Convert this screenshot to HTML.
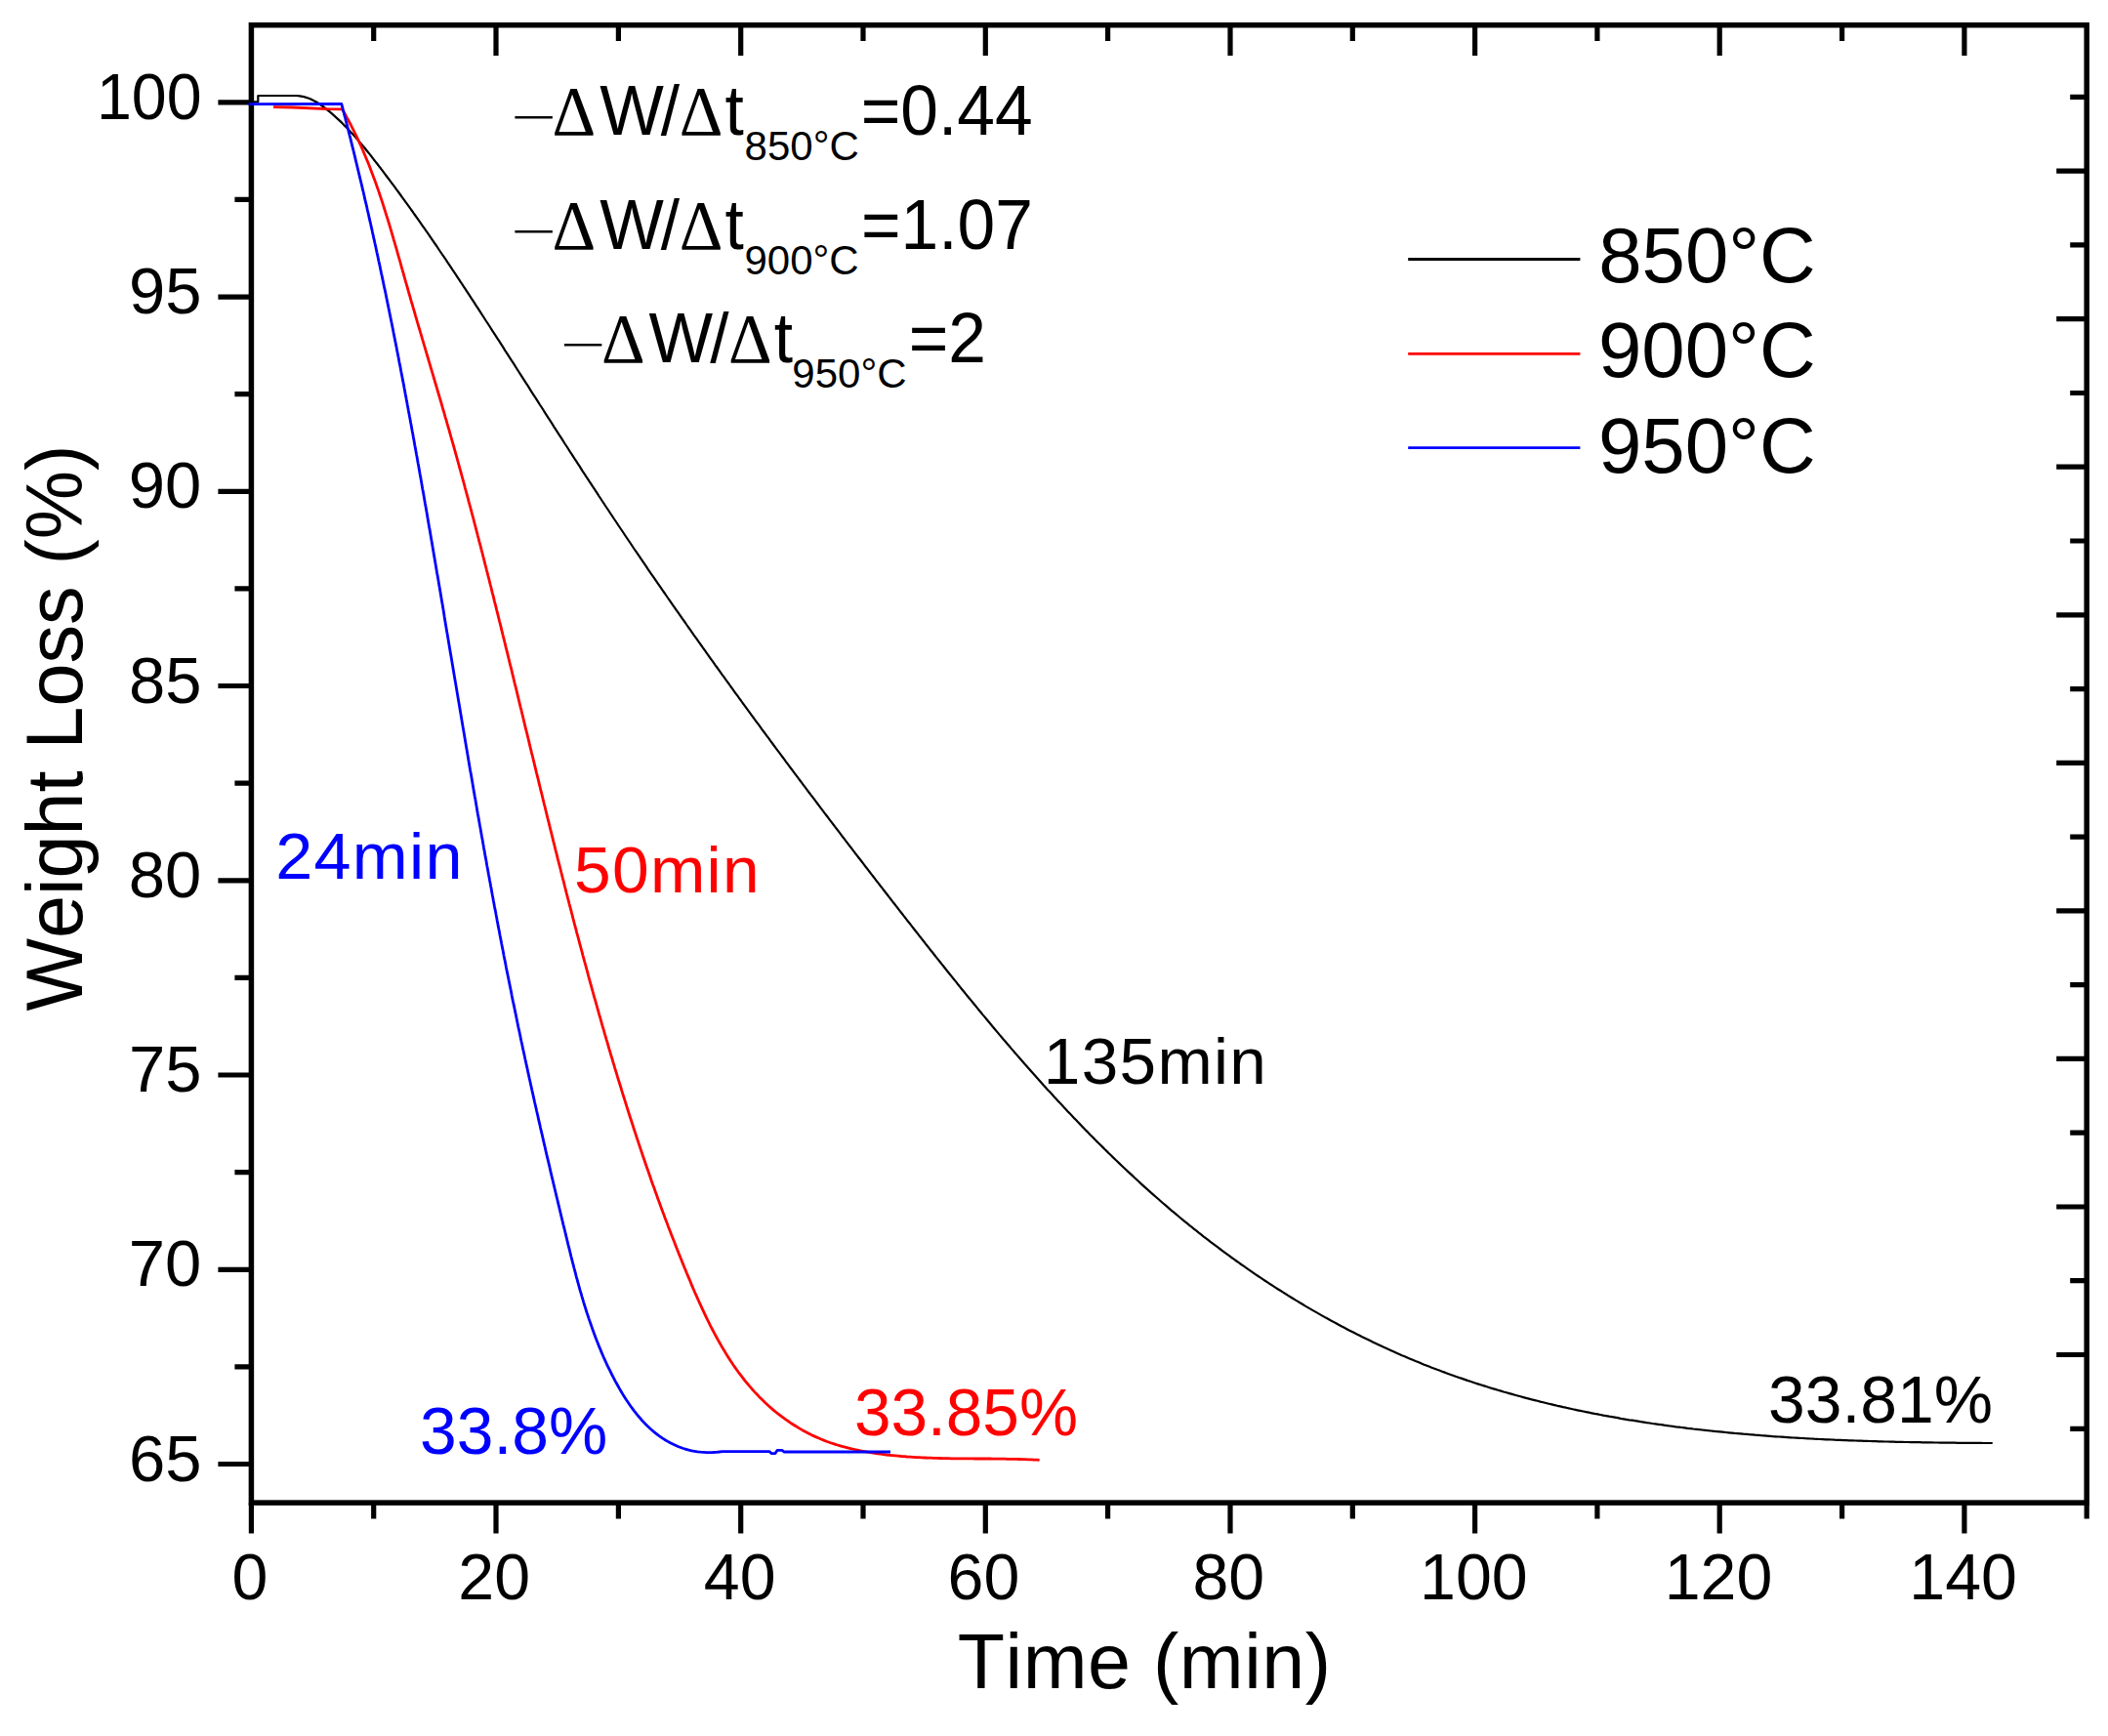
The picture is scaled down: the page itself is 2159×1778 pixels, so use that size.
<!DOCTYPE html>
<html lang="en">
<head>
<meta charset="utf-8">
<title>Weight Loss vs Time</title>
<style>
html,body{margin:0;padding:0;background:#fff;}
body{width:2159px;height:1778px;overflow:hidden;}
svg{display:block;}
svg text{font-family:'Liberation Sans', sans-serif;font-kerning:none;font-variant-ligatures:none;}
</style>
</head>
<body>
<svg width="2159" height="1778" viewBox="0 0 2159 1778">
<rect x="0" y="0" width="2159" height="1778" fill="#ffffff"/>
<rect x="257.4" y="25.7" width="1879.8" height="1513.4" fill="none" stroke="#000" stroke-width="5.5"/>
<path d="M257.4,1539.1 v31.3 M382.7,1539.1 v16.4 M382.7,25.7 v16.4 M508.0,1539.1 v31.3 M508.0,25.7 v31.3 M633.4,1539.1 v16.4 M633.4,25.7 v16.4 M758.7,1539.1 v31.3 M758.7,25.7 v31.3 M884.0,1539.1 v16.4 M884.0,25.7 v16.4 M1009.3,1539.1 v31.3 M1009.3,25.7 v31.3 M1134.6,1539.1 v16.4 M1134.6,25.7 v16.4 M1260.0,1539.1 v31.3 M1260.0,25.7 v31.3 M1385.3,1539.1 v16.4 M1385.3,25.7 v16.4 M1510.6,1539.1 v31.3 M1510.6,25.7 v31.3 M1635.9,1539.1 v16.4 M1635.9,25.7 v16.4 M1761.2,1539.1 v31.3 M1761.2,25.7 v31.3 M1886.6,1539.1 v16.4 M1886.6,25.7 v16.4 M2011.9,1539.1 v31.3 M2011.9,25.7 v31.3 M2137.2,1539.1 v16.4 M257.4,104.8 h-34.0 M257.4,204.4 h-17.0 M257.4,304.1 h-34.0 M257.4,403.7 h-17.0 M257.4,503.3 h-34.0 M257.4,602.9 h-17.0 M257.4,702.5 h-34.0 M257.4,802.2 h-17.0 M257.4,901.8 h-34.0 M257.4,1001.4 h-17.0 M257.4,1101.0 h-34.0 M257.4,1200.7 h-17.0 M257.4,1300.3 h-34.0 M257.4,1399.9 h-17.0 M257.4,1499.5 h-34.0 M2137.2,99.4 h-17.0 M2137.2,175.2 h-31.0 M2137.2,250.9 h-17.0 M2137.2,326.7 h-31.0 M2137.2,402.5 h-17.0 M2137.2,478.2 h-31.0 M2137.2,554.0 h-17.0 M2137.2,629.8 h-31.0 M2137.2,705.6 h-17.0 M2137.2,781.3 h-31.0 M2137.2,857.1 h-17.0 M2137.2,932.9 h-31.0 M2137.2,1008.6 h-17.0 M2137.2,1084.4 h-31.0 M2137.2,1160.2 h-17.0 M2137.2,1236.0 h-31.0 M2137.2,1311.7 h-17.0 M2137.2,1387.5 h-31.0 M2137.2,1463.3 h-17.0" stroke="#000" stroke-width="5.2" fill="none"/>
<polyline points="257.4,104.3 264.3,104.3 264.3,98.0 290.0,98.0 304.0,98.0 304.0,98.0 307.1,98.3 310.0,98.8 312.9,99.6 315.7,100.5 318.4,101.6 321.0,102.9 323.6,104.3 326.1,105.8 328.5,107.5 330.9,109.2 333.3,111.0 335.6,112.8 337.9,114.7 340.2,116.6 342.4,118.6 344.6,120.6 346.8,122.6 349.0,124.6 351.1,126.7 353.2,128.9 355.3,131.0 357.4,133.2 359.4,135.4 361.4,137.6 363.5,139.8 365.4,142.1 367.4,144.4 369.4,146.7 371.3,149.0 373.3,151.3 375.2,153.7 377.1,156.0 379.0,158.4 380.9,160.8 382.7,163.2 384.6,165.6 386.5,168.0 388.3,170.4 390.2,172.8 392.0,175.2 393.8,177.6 395.6,180.0 397.5,182.5 399.3,184.9 401.1,187.3 402.9,189.7 404.7,192.2 406.5,194.6 408.3,197.0 410.1,199.5 411.8,201.9 413.6,204.3 415.4,206.8 417.1,209.2 418.9,211.7 420.7,214.1 422.4,216.5 424.1,219.0 425.9,221.5 427.6,223.9 429.4,226.4 431.1,228.8 432.8,231.3 434.5,233.7 436.2,236.2 438.0,238.7 439.7,241.1 441.4,243.6 443.1,246.1 444.8,248.6 446.5,251.0 448.2,253.5 449.8,256.0 451.5,258.5 453.2,261.0 454.9,263.4 456.6,265.9 458.2,268.4 459.9,270.9 461.6,273.4 463.2,275.9 464.9,278.4 466.6,280.9 468.2,283.4 469.9,285.9 471.5,288.4 473.2,290.9 474.8,293.4 476.5,295.9 478.1,298.4 479.8,300.9 481.4,303.4 483.0,305.9 484.7,308.4 486.3,310.9 487.9,313.4 489.6,315.9 491.2,318.4 492.8,320.9 494.5,323.5 496.1,326.0 497.7,328.5 499.4,331.0 501.0,333.5 502.6,336.0 504.2,338.6 505.9,341.1 507.5,343.6 509.1,346.1 510.8,348.7 512.4,351.2 514.0,353.7 515.6,356.2 517.2,358.8 518.9,361.3 520.5,363.8 522.1,366.3 523.7,368.9 525.4,371.4 527.0,373.9 528.6,376.5 530.2,379.0 531.8,381.5 533.5,384.1 535.1,386.6 536.7,389.1 538.3,391.7 540.0,394.2 541.6,396.7 543.2,399.3 544.8,401.8 546.4,404.3 548.1,406.9 549.7,409.4 551.3,411.9 552.9,414.5 554.6,417.0 556.2,419.5 557.8,422.1 559.4,424.6 561.0,427.1 562.7,429.7 564.3,432.2 565.9,434.7 567.5,437.3 569.2,439.8 570.8,442.3 572.4,444.9 574.1,447.4 575.7,449.9 577.3,452.5 578.9,455.0 580.6,457.5 582.2,460.0 583.8,462.6 585.5,465.1 587.1,467.6 588.7,470.2 590.4,472.7 592.0,475.2 593.7,477.7 595.3,480.3 596.9,482.8 598.6,485.3 600.2,487.8 601.9,490.3 603.5,492.9 605.2,495.4 606.8,497.9 608.5,500.4 610.1,502.9 611.8,505.4 613.4,508.0 615.1,510.5 616.7,513.0 618.4,515.5 620.0,518.0 621.7,520.5 623.4,523.0 625.0,525.5 626.7,528.0 628.3,530.5 630.0,533.0 631.7,535.5 633.3,538.0 635.0,540.5 636.7,543.0 638.4,545.5 640.0,548.0 641.7,550.5 643.4,553.0 645.1,555.5 646.8,558.0 648.4,560.5 650.1,563.0 651.8,565.4 653.5,567.9 655.2,570.4 656.9,572.9 658.6,575.4 660.3,577.8 662.0,580.3 663.6,582.8 665.3,585.3 667.0,587.8 668.7,590.2 670.4,592.7 672.1,595.2 673.8,597.7 675.6,600.1 677.3,602.6 679.0,605.1 680.7,607.5 682.4,610.0 684.1,612.5 685.8,614.9 687.5,617.4 689.2,619.8 691.0,622.3 692.7,624.8 694.4,627.2 696.1,629.7 697.8,632.1 699.6,634.6 701.3,637.0 703.0,639.5 704.7,642.0 706.5,644.4 708.2,646.9 709.9,649.3 711.7,651.8 713.4,654.2 715.1,656.7 716.9,659.1 718.6,661.5 720.3,664.0 722.1,666.4 723.8,668.9 725.6,671.3 727.3,673.8 729.0,676.2 730.8,678.6 732.5,681.1 734.3,683.5 736.0,685.9 737.8,688.4 739.5,690.8 741.3,693.2 743.0,695.7 744.8,698.1 746.6,700.5 748.3,703.0 750.1,705.4 751.8,707.8 753.6,710.3 755.4,712.7 757.1,715.1 758.9,717.5 760.6,720.0 762.4,722.4 764.2,724.8 765.9,727.2 767.7,729.6 769.5,732.1 771.3,734.5 773.0,736.9 774.8,739.3 776.6,741.7 778.4,744.2 780.1,746.6 781.9,749.0 783.7,751.4 785.5,753.8 787.3,756.2 789.0,758.6 790.8,761.0 792.6,763.5 794.4,765.9 796.2,768.3 798.0,770.7 799.8,773.1 801.6,775.5 803.4,777.9 805.1,780.3 806.9,782.7 808.7,785.1 810.5,787.5 812.3,789.9 814.1,792.3 815.9,794.7 817.7,797.1 819.5,799.5 821.3,801.9 823.1,804.3 824.9,806.7 826.7,809.1 828.5,811.5 830.3,813.9 832.2,816.3 834.0,818.7 835.8,821.1 837.6,823.5 839.4,825.9 841.2,828.3 843.0,830.7 844.8,833.1 846.7,835.5 848.5,837.9 850.3,840.3 852.1,842.7 853.9,845.0 855.7,847.4 857.6,849.8 859.4,852.2 861.2,854.6 863.0,857.0 864.9,859.4 866.7,861.8 868.5,864.1 870.3,866.5 872.2,868.9 874.0,871.3 875.8,873.7 877.7,876.1 879.5,878.5 881.3,880.8 883.2,883.2 885.0,885.6 886.8,888.0 888.7,890.4 890.5,892.7 892.3,895.1 894.2,897.5 896.0,899.9 897.8,902.3 899.7,904.6 901.5,907.0 903.4,909.4 905.2,911.8 907.1,914.2 908.9,916.5 910.7,918.9 912.6,921.3 914.4,923.7 916.3,926.0 918.1,928.4 920.0,930.8 921.8,933.2 923.7,935.5 925.5,937.9 927.4,940.3 929.2,942.7 931.1,945.0 933.0,947.4 934.8,949.8 936.7,952.2 938.5,954.5 940.4,956.9 942.2,959.3 944.1,961.6 946.0,964.0 947.8,966.4 949.7,968.7 951.6,971.1 953.4,973.5 955.3,975.8 957.2,978.2 959.1,980.6 960.9,982.9 962.8,985.3 964.7,987.6 966.6,990.0 968.4,992.3 970.3,994.7 972.2,997.0 974.1,999.4 976.0,1001.7 977.9,1004.1 979.8,1006.4 981.6,1008.8 983.5,1011.1 985.4,1013.5 987.3,1015.8 989.2,1018.1 991.1,1020.5 993.0,1022.8 995.0,1025.1 996.9,1027.5 998.8,1029.8 1000.7,1032.1 1002.6,1034.5 1004.5,1036.8 1006.4,1039.1 1008.4,1041.4 1010.3,1043.7 1012.2,1046.0 1014.1,1048.3 1016.1,1050.7 1018.0,1053.0 1019.9,1055.3 1021.9,1057.6 1023.8,1059.9 1025.8,1062.2 1027.7,1064.5 1029.7,1066.7 1031.6,1069.0 1033.6,1071.3 1035.5,1073.6 1037.5,1075.9 1039.5,1078.2 1041.4,1080.4 1043.4,1082.7 1045.4,1085.0 1047.4,1087.2 1049.3,1089.5 1051.3,1091.8 1053.3,1094.0 1055.3,1096.3 1057.3,1098.5 1059.3,1100.8 1061.3,1103.0 1063.3,1105.2 1065.3,1107.5 1067.3,1109.7 1069.3,1111.9 1071.3,1114.2 1073.3,1116.4 1075.4,1118.6 1077.4,1120.8 1079.4,1123.0 1081.5,1125.2 1083.5,1127.4 1085.5,1129.6 1087.6,1131.8 1089.6,1134.0 1091.7,1136.2 1093.7,1138.4 1095.8,1140.6 1097.9,1142.8 1099.9,1144.9 1102.0,1147.1 1104.1,1149.3 1106.2,1151.4 1108.2,1153.6 1110.3,1155.7 1112.4,1157.9 1114.5,1160.0 1116.6,1162.2 1118.7,1164.3 1120.8,1166.4 1122.9,1168.6 1125.1,1170.7 1127.2,1172.8 1129.3,1174.9 1131.4,1177.0 1133.6,1179.1 1135.7,1181.2 1137.9,1183.3 1140.0,1185.4 1142.2,1187.5 1144.3,1189.5 1146.5,1191.6 1148.7,1193.7 1150.8,1195.7 1153.0,1197.8 1155.2,1199.9 1157.4,1201.9 1159.6,1203.9 1161.8,1206.0 1164.0,1208.0 1166.2,1210.0 1168.4,1212.1 1170.6,1214.1 1172.8,1216.1 1175.1,1218.1 1177.3,1220.1 1179.5,1222.1 1181.8,1224.1 1184.0,1226.0 1186.3,1228.0 1188.5,1230.0 1190.8,1232.0 1193.1,1233.9 1195.4,1235.9 1197.6,1237.8 1199.9,1239.8 1202.2,1241.7 1204.5,1243.6 1206.8,1245.5 1209.1,1247.5 1211.4,1249.4 1213.8,1251.3 1216.1,1253.2 1218.4,1255.1 1220.8,1256.9 1223.1,1258.8 1225.5,1260.7 1227.8,1262.6 1230.2,1264.4 1232.5,1266.3 1234.9,1268.1 1237.3,1269.9 1239.7,1271.8 1242.1,1273.6 1244.5,1275.4 1246.9,1277.2 1249.3,1279.0 1251.7,1280.8 1254.1,1282.6 1256.5,1284.4 1259.0,1286.2 1261.4,1288.0 1263.8,1289.7 1266.3,1291.5 1268.7,1293.2 1271.2,1295.0 1273.7,1296.7 1276.1,1298.4 1278.6,1300.2 1281.1,1301.9 1283.6,1303.6 1286.1,1305.3 1288.6,1307.0 1291.1,1308.6 1293.6,1310.3 1296.1,1312.0 1298.6,1313.6 1301.1,1315.3 1303.6,1316.9 1306.2,1318.6 1308.7,1320.2 1311.3,1321.8 1313.8,1323.4 1316.4,1325.0 1318.9,1326.6 1321.5,1328.2 1324.0,1329.8 1326.6,1331.4 1329.2,1332.9 1331.8,1334.5 1334.4,1336.0 1336.9,1337.6 1339.5,1339.1 1342.1,1340.6 1344.7,1342.1 1347.4,1343.6 1350.0,1345.1 1352.6,1346.6 1355.2,1348.1 1357.8,1349.6 1360.5,1351.0 1363.1,1352.5 1365.7,1353.9 1368.4,1355.3 1371.0,1356.8 1373.7,1358.2 1376.4,1359.6 1379.0,1361.0 1381.7,1362.4 1384.4,1363.8 1387.0,1365.1 1389.7,1366.5 1392.4,1367.8 1395.1,1369.2 1397.8,1370.5 1400.5,1371.8 1403.2,1373.1 1405.9,1374.4 1408.6,1375.7 1411.3,1377.0 1414.0,1378.3 1416.7,1379.6 1419.5,1380.8 1422.2,1382.1 1424.9,1383.3 1427.7,1384.5 1430.4,1385.8 1433.2,1387.0 1435.9,1388.2 1438.7,1389.3 1441.4,1390.5 1444.2,1391.7 1446.9,1392.8 1449.7,1394.0 1452.5,1395.1 1455.3,1396.3 1458.0,1397.4 1460.8,1398.5 1463.6,1399.6 1466.4,1400.7 1469.2,1401.7 1472.0,1402.8 1474.8,1403.8 1477.6,1404.9 1480.4,1405.9 1483.2,1407.0 1486.0,1408.0 1488.8,1409.0 1491.6,1410.0 1494.5,1411.0 1497.3,1411.9 1500.1,1412.9 1502.9,1413.9 1505.8,1414.8 1508.6,1415.7 1511.5,1416.7 1514.3,1417.6 1517.2,1418.5 1520.0,1419.4 1522.9,1420.3 1525.7,1421.2 1528.6,1422.1 1531.4,1422.9 1534.3,1423.8 1537.2,1424.6 1540.0,1425.5 1542.9,1426.3 1545.8,1427.1 1548.7,1427.9 1551.6,1428.7 1554.4,1429.5 1557.3,1430.3 1560.2,1431.1 1563.1,1431.9 1566.0,1432.6 1568.9,1433.4 1571.8,1434.1 1574.7,1434.8 1577.6,1435.6 1580.5,1436.3 1583.4,1437.0 1586.3,1437.7 1589.3,1438.4 1592.2,1439.1 1595.1,1439.8 1598.0,1440.4 1600.9,1441.1 1603.9,1441.7 1606.8,1442.4 1609.7,1443.0 1612.7,1443.7 1615.6,1444.3 1618.5,1444.9 1621.5,1445.5 1624.4,1446.1 1627.3,1446.7 1630.3,1447.3 1633.2,1447.9 1636.2,1448.4 1639.1,1449.0 1642.1,1449.6 1645.0,1450.1 1648.0,1450.7 1651.0,1451.2 1653.9,1451.7 1656.9,1452.2 1659.8,1452.8 1662.8,1453.3 1665.8,1453.8 1668.7,1454.3 1671.7,1454.7 1674.7,1455.2 1677.7,1455.7 1680.6,1456.2 1683.6,1456.6 1686.6,1457.1 1689.6,1457.5 1692.5,1458.0 1695.5,1458.4 1698.5,1458.8 1701.5,1459.2 1704.5,1459.7 1707.5,1460.1 1710.5,1460.5 1713.4,1460.9 1716.4,1461.3 1719.4,1461.6 1722.4,1462.0 1725.4,1462.4 1728.4,1462.8 1731.4,1463.1 1734.4,1463.5 1737.4,1463.8 1740.4,1464.2 1743.4,1464.5 1746.4,1464.8 1749.4,1465.2 1752.4,1465.5 1755.4,1465.8 1758.4,1466.1 1761.4,1466.4 1764.4,1466.7 1767.4,1467.0 1770.4,1467.3 1773.5,1467.6 1776.5,1467.9 1779.5,1468.1 1782.5,1468.4 1785.5,1468.7 1788.5,1468.9 1791.5,1469.2 1794.5,1469.4 1797.5,1469.7 1800.6,1469.9 1803.6,1470.2 1806.6,1470.4 1809.6,1470.6 1812.6,1470.8 1815.6,1471.1 1818.6,1471.3 1821.7,1471.5 1824.7,1471.7 1827.7,1471.9 1830.7,1472.1 1833.7,1472.3 1836.7,1472.5 1839.8,1472.6 1842.8,1472.8 1845.8,1473.0 1848.8,1473.2 1851.8,1473.3 1854.8,1473.5 1857.9,1473.7 1860.9,1473.8 1863.9,1474.0 1866.9,1474.1 1869.9,1474.3 1872.9,1474.4 1876.0,1474.5 1879.0,1474.7 1882.0,1474.8 1885.0,1474.9 1888.0,1475.1 1891.0,1475.2 1894.0,1475.3 1897.1,1475.4 1900.1,1475.5 1903.1,1475.6 1906.1,1475.7 1909.1,1475.8 1912.1,1475.9 1915.1,1476.0 1918.1,1476.1 1921.2,1476.2 1924.2,1476.3 1927.2,1476.4 1930.2,1476.5 1933.2,1476.5 1936.2,1476.6 1939.2,1476.7 1942.2,1476.8 1945.2,1476.8 1948.2,1476.9 1951.2,1477.0 1954.2,1477.0 1957.2,1477.1 1960.2,1477.1 1963.2,1477.2 1966.2,1477.2 1969.2,1477.3 1972.2,1477.3 1975.2,1477.4 1978.2,1477.4 1981.2,1477.5 1984.2,1477.5 1987.1,1477.6 1990.1,1477.6 1993.1,1477.6 1996.1,1477.7 1999.1,1477.7 2002.1,1477.7 2005.0,1477.8 2008.0,1477.8 2011.0,1477.8 2014.0,1477.8 2017.0,1477.9 2019.9,1477.9 2022.9,1477.9 2025.9,1477.9 2028.8,1477.9 2031.8,1478.0 2034.8,1478.0 2037.7,1478.0 2040.7,1478.0" fill="none" stroke="#000000" stroke-width="2.2" stroke-linejoin="round" stroke-linecap="butt"/>
<polyline points="280.0,109.6 300.0,110.0 335.0,111.6 350.4,111.8 350.4,111.8 351.9,114.4 353.4,117.0 354.8,119.6 356.3,122.2 357.7,124.9 359.1,127.5 360.4,130.2 361.8,132.8 363.1,135.5 364.4,138.2 365.7,140.9 367.0,143.6 368.2,146.3 369.5,149.0 370.7,151.7 371.9,154.5 373.0,157.2 374.2,160.0 375.3,162.7 376.5,165.5 377.6,168.3 378.7,171.1 379.8,173.9 380.8,176.7 381.9,179.5 382.9,182.3 384.0,185.1 385.0,187.9 386.0,190.7 387.0,193.6 388.0,196.4 388.9,199.2 389.9,202.1 390.8,204.9 391.8,207.8 392.7,210.7 393.6,213.5 394.5,216.4 395.4,219.3 396.3,222.2 397.2,225.0 398.1,227.9 399.0,230.8 399.8,233.7 400.7,236.6 401.5,239.5 402.4,242.4 403.2,245.3 404.1,248.2 404.9,251.1 405.8,254.0 406.6,256.9 407.4,259.8 408.2,262.7 409.1,265.6 409.9,268.5 410.7,271.4 411.5,274.3 412.3,277.2 413.2,280.1 414.0,283.1 414.8,286.0 415.6,288.9 416.5,291.8 417.3,294.7 418.1,297.6 418.9,300.5 419.8,303.4 420.6,306.3 421.4,309.1 422.3,312.0 423.1,314.9 424.0,317.8 424.8,320.7 425.6,323.6 426.5,326.5 427.3,329.4 428.2,332.3 429.0,335.2 429.9,338.0 430.7,340.9 431.6,343.8 432.4,346.7 433.3,349.6 434.1,352.4 435.0,355.3 435.8,358.2 436.7,361.1 437.5,364.0 438.4,366.8 439.2,369.7 440.1,372.6 440.9,375.5 441.8,378.4 442.6,381.2 443.5,384.1 444.3,387.0 445.2,389.9 446.0,392.8 446.9,395.6 447.7,398.5 448.6,401.4 449.4,404.3 450.3,407.1 451.1,410.0 452.0,412.9 452.8,415.8 453.6,418.7 454.5,421.5 455.3,424.4 456.1,427.3 457.0,430.2 457.8,433.1 458.6,436.0 459.5,438.8 460.3,441.7 461.1,444.6 461.9,447.5 462.7,450.4 463.6,453.3 464.4,456.2 465.2,459.1 466.0,461.9 466.8,464.8 467.6,467.7 468.4,470.6 469.2,473.5 470.0,476.4 470.8,479.3 471.6,482.2 472.4,485.1 473.2,488.0 474.0,490.9 474.8,493.8 475.6,496.7 476.3,499.6 477.1,502.5 477.9,505.4 478.7,508.3 479.5,511.2 480.2,514.1 481.0,517.0 481.8,519.9 482.6,522.8 483.3,525.7 484.1,528.6 484.9,531.5 485.6,534.4 486.4,537.4 487.2,540.3 487.9,543.2 488.7,546.1 489.4,549.0 490.2,551.9 490.9,554.8 491.7,557.7 492.5,560.6 493.2,563.6 494.0,566.5 494.7,569.4 495.5,572.3 496.2,575.2 496.9,578.1 497.7,581.0 498.4,584.0 499.2,586.9 499.9,589.8 500.7,592.7 501.4,595.6 502.1,598.5 502.9,601.5 503.6,604.4 504.3,607.3 505.1,610.2 505.8,613.1 506.5,616.1 507.3,619.0 508.0,621.9 508.7,624.8 509.5,627.8 510.2,630.7 510.9,633.6 511.6,636.5 512.4,639.4 513.1,642.4 513.8,645.3 514.5,648.2 515.2,651.1 516.0,654.1 516.7,657.0 517.4,659.9 518.1,662.8 518.9,665.8 519.6,668.7 520.3,671.6 521.0,674.5 521.7,677.5 522.4,680.4 523.2,683.3 523.9,686.2 524.6,689.2 525.3,692.1 526.0,695.0 526.7,698.0 527.4,700.9 528.2,703.8 528.9,706.7 529.6,709.7 530.3,712.6 531.0,715.5 531.7,718.4 532.4,721.4 533.1,724.3 533.9,727.2 534.6,730.2 535.3,733.1 536.0,736.0 536.7,738.9 537.4,741.9 538.1,744.8 538.8,747.7 539.6,750.7 540.3,753.6 541.0,756.5 541.7,759.4 542.4,762.4 543.1,765.3 543.8,768.2 544.5,771.1 545.3,774.1 546.0,777.0 546.7,779.9 547.4,782.9 548.1,785.8 548.8,788.7 549.5,791.6 550.3,794.6 551.0,797.5 551.7,800.4 552.4,803.3 553.1,806.3 553.8,809.2 554.6,812.1 555.3,815.0 556.0,818.0 556.7,820.9 557.4,823.8 558.2,826.7 558.9,829.7 559.6,832.6 560.3,835.5 561.0,838.4 561.8,841.4 562.5,844.3 563.2,847.2 563.9,850.1 564.7,853.1 565.4,856.0 566.1,858.9 566.8,861.8 567.6,864.7 568.3,867.7 569.0,870.6 569.8,873.5 570.5,876.4 571.2,879.3 572.0,882.3 572.7,885.2 573.5,888.1 574.2,891.0 574.9,893.9 575.7,896.9 576.4,899.8 577.2,902.7 577.9,905.6 578.6,908.5 579.4,911.4 580.1,914.3 580.9,917.3 581.6,920.2 582.4,923.1 583.1,926.0 583.9,928.9 584.7,931.8 585.4,934.7 586.2,937.6 586.9,940.6 587.7,943.5 588.4,946.4 589.2,949.3 590.0,952.2 590.7,955.1 591.5,958.0 592.3,960.9 593.1,963.8 593.8,966.7 594.6,969.6 595.4,972.5 596.2,975.4 596.9,978.3 597.7,981.2 598.5,984.1 599.3,987.0 600.1,989.9 600.9,992.8 601.7,995.7 602.4,998.6 603.2,1001.5 604.0,1004.4 604.8,1007.3 605.6,1010.2 606.4,1013.1 607.2,1016.0 608.0,1018.9 608.8,1021.8 609.7,1024.7 610.5,1027.6 611.3,1030.5 612.1,1033.3 612.9,1036.2 613.7,1039.1 614.6,1042.0 615.4,1044.9 616.2,1047.8 617.0,1050.7 617.9,1053.5 618.7,1056.4 619.5,1059.3 620.4,1062.2 621.2,1065.1 622.1,1067.9 622.9,1070.8 623.7,1073.7 624.6,1076.6 625.4,1079.4 626.3,1082.3 627.2,1085.2 628.0,1088.1 628.9,1090.9 629.7,1093.8 630.6,1096.7 631.5,1099.5 632.3,1102.4 633.2,1105.3 634.1,1108.1 635.0,1111.0 635.9,1113.9 636.7,1116.7 637.6,1119.6 638.5,1122.5 639.4,1125.3 640.3,1128.2 641.2,1131.0 642.1,1133.9 643.0,1136.7 643.9,1139.6 644.8,1142.5 645.7,1145.3 646.7,1148.2 647.6,1151.0 648.5,1153.9 649.4,1156.7 650.4,1159.6 651.3,1162.4 652.2,1165.2 653.2,1168.1 654.1,1170.9 655.1,1173.8 656.0,1176.6 657.0,1179.5 657.9,1182.3 658.9,1185.2 659.9,1188.0 660.8,1190.8 661.8,1193.7 662.8,1196.5 663.8,1199.3 664.8,1202.2 665.8,1205.0 666.7,1207.8 667.7,1210.7 668.7,1213.5 669.8,1216.3 670.8,1219.2 671.8,1222.0 672.8,1224.8 673.8,1227.7 674.9,1230.5 675.9,1233.3 676.9,1236.1 678.0,1239.0 679.0,1241.8 680.1,1244.6 681.1,1247.5 682.2,1250.3 683.3,1253.1 684.3,1255.9 685.4,1258.7 686.5,1261.6 687.6,1264.4 688.7,1267.2 689.8,1270.0 690.9,1272.8 692.0,1275.7 693.1,1278.5 694.2,1281.3 695.3,1284.1 696.5,1286.9 697.6,1289.7 698.7,1292.6 699.9,1295.4 701.0,1298.2 702.2,1301.0 703.3,1303.8 704.5,1306.6 705.7,1309.4 706.9,1312.3 708.0,1315.1 709.2,1317.9 710.4,1320.7 711.6,1323.5 712.9,1326.3 714.1,1329.1 715.3,1331.8 716.6,1334.6 717.9,1337.4 719.1,1340.2 720.4,1342.9 721.7,1345.7 723.0,1348.4 724.3,1351.2 725.7,1353.9 727.0,1356.6 728.4,1359.3 729.8,1362.0 731.2,1364.7 732.6,1367.3 734.1,1370.0 735.5,1372.6 737.0,1375.3 738.5,1377.9 740.0,1380.5 741.6,1383.1 743.1,1385.6 744.7,1388.2 746.3,1390.7 747.9,1393.2 749.6,1395.7 751.2,1398.2 752.9,1400.6 754.6,1403.0 756.4,1405.5 758.2,1407.8 760.0,1410.2 761.8,1412.6 763.6,1414.9 765.5,1417.2 767.4,1419.4 769.4,1421.7 771.3,1423.9 773.3,1426.1 775.4,1428.3 777.4,1430.4 779.5,1432.5 781.6,1434.6 783.8,1436.7 786.0,1438.7 788.2,1440.7 790.4,1442.6 792.7,1444.6 795.0,1446.5 797.4,1448.3 799.7,1450.1 802.1,1451.9 804.5,1453.7 807.0,1455.4 809.4,1457.1 811.9,1458.7 814.4,1460.3 817.0,1461.9 819.5,1463.4 822.1,1464.9 824.7,1466.3 827.4,1467.7 830.0,1469.1 832.7,1470.4 835.4,1471.6 838.2,1472.8 840.9,1474.0 843.7,1475.1 846.5,1476.2 849.3,1477.2 852.1,1478.2 854.9,1479.1 857.8,1480.0 860.6,1480.9 863.5,1481.7 866.4,1482.4 869.3,1483.2 872.3,1483.9 875.2,1484.5 878.1,1485.2 881.1,1485.8 884.0,1486.4 887.0,1486.9 890.0,1487.4 893.0,1487.9 895.9,1488.4 898.9,1488.8 901.9,1489.2 904.9,1489.6 907.9,1490.0 910.9,1490.3 913.9,1490.6 916.9,1490.9 920.0,1491.2 923.0,1491.5 926.0,1491.7 929.0,1492.0 932.0,1492.2 935.1,1492.4 938.1,1492.6 941.1,1492.7 944.1,1492.9 947.2,1493.0 950.2,1493.1 953.2,1493.2 956.3,1493.3 959.3,1493.4 962.4,1493.5 965.4,1493.6 968.4,1493.6 971.5,1493.7 974.5,1493.8 977.5,1493.8 980.6,1493.8 983.6,1493.9 986.6,1493.9 989.7,1493.9 992.7,1493.9 995.7,1493.9 998.8,1494.0 1001.8,1494.0 1004.8,1494.0 1007.8,1494.0 1010.9,1494.0 1013.9,1494.0 1016.9,1494.1 1019.9,1494.1 1022.9,1494.1 1025.9,1494.2 1028.9,1494.2 1031.9,1494.3 1034.9,1494.3 1037.9,1494.4 1040.9,1494.4 1043.9,1494.5 1046.8,1494.6 1049.8,1494.7 1052.8,1494.8 1055.7,1494.9 1058.7,1495.1 1061.7,1495.2 1064.6,1495.4" fill="none" stroke="#ff0000" stroke-width="2.8" stroke-linejoin="round" stroke-linecap="butt"/>
<polyline points="254.6,106.6 349.8,106.4 349.8,106.4 350.6,109.3 351.3,112.2 352.1,115.1 352.8,118.1 353.6,121.0 354.3,123.9 355.1,126.8 355.8,129.7 356.6,132.6 357.3,135.6 358.0,138.5 358.8,141.4 359.5,144.3 360.2,147.2 360.9,150.2 361.7,153.1 362.4,156.0 363.1,158.9 363.8,161.9 364.5,164.8 365.2,167.7 365.9,170.6 366.6,173.6 367.3,176.5 368.0,179.4 368.7,182.3 369.4,185.3 370.1,188.2 370.8,191.1 371.5,194.1 372.2,197.0 372.9,199.9 373.5,202.9 374.2,205.8 374.9,208.7 375.6,211.6 376.2,214.6 376.9,217.5 377.6,220.4 378.2,223.4 378.9,226.3 379.6,229.3 380.2,232.2 380.9,235.1 381.5,238.1 382.2,241.0 382.8,243.9 383.5,246.9 384.1,249.8 384.8,252.8 385.4,255.7 386.0,258.6 386.7,261.6 387.3,264.5 387.9,267.5 388.6,270.4 389.2,273.3 389.8,276.3 390.4,279.2 391.1,282.2 391.7,285.1 392.3,288.1 392.9,291.0 393.5,293.9 394.2,296.9 394.8,299.8 395.4,302.8 396.0,305.7 396.6,308.7 397.2,311.6 397.8,314.6 398.4,317.5 399.0,320.5 399.6,323.4 400.2,326.4 400.8,329.3 401.4,332.3 402.0,335.2 402.6,338.2 403.1,341.1 403.7,344.1 404.3,347.0 404.9,350.0 405.5,352.9 406.1,355.9 406.6,358.8 407.2,361.8 407.8,364.7 408.4,367.7 408.9,370.7 409.5,373.6 410.1,376.6 410.6,379.5 411.2,382.5 411.8,385.4 412.3,388.4 412.9,391.3 413.5,394.3 414.0,397.3 414.6,400.2 415.1,403.2 415.7,406.1 416.2,409.1 416.8,412.0 417.3,415.0 417.9,418.0 418.4,420.9 419.0,423.9 419.5,426.8 420.1,429.8 420.6,432.8 421.2,435.7 421.7,438.7 422.2,441.6 422.8,444.6 423.3,447.6 423.9,450.5 424.4,453.5 424.9,456.5 425.5,459.4 426.0,462.4 426.5,465.3 427.1,468.3 427.6,471.3 428.1,474.2 428.7,477.2 429.2,480.2 429.7,483.1 430.2,486.1 430.8,489.1 431.3,492.0 431.8,495.0 432.3,498.0 432.8,500.9 433.4,503.9 433.9,506.8 434.4,509.8 434.9,512.8 435.4,515.7 436.0,518.7 436.5,521.7 437.0,524.6 437.5,527.6 438.0,530.6 438.5,533.5 439.0,536.5 439.5,539.5 440.1,542.4 440.6,545.4 441.1,548.4 441.6,551.4 442.1,554.3 442.6,557.3 443.1,560.3 443.6,563.2 444.1,566.2 444.6,569.2 445.1,572.1 445.6,575.1 446.1,578.1 446.6,581.0 447.1,584.0 447.6,587.0 448.2,589.9 448.7,592.9 449.2,595.9 449.7,598.9 450.2,601.8 450.7,604.8 451.2,607.8 451.7,610.7 452.2,613.7 452.7,616.7 453.2,619.6 453.7,622.6 454.2,625.6 454.7,628.5 455.1,631.5 455.6,634.5 456.1,637.5 456.6,640.4 457.1,643.4 457.6,646.4 458.1,649.3 458.6,652.3 459.1,655.3 459.6,658.2 460.1,661.2 460.6,664.2 461.1,667.2 461.6,670.1 462.1,673.1 462.6,676.1 463.1,679.0 463.6,682.0 464.1,685.0 464.6,688.0 465.1,690.9 465.6,693.9 466.1,696.9 466.6,699.8 467.1,702.8 467.6,705.8 468.1,708.7 468.6,711.7 469.1,714.7 469.6,717.7 470.1,720.6 470.6,723.6 471.1,726.6 471.6,729.5 472.1,732.5 472.6,735.5 473.1,738.4 473.6,741.4 474.1,744.4 474.6,747.3 475.1,750.3 475.6,753.3 476.1,756.3 476.6,759.2 477.1,762.2 477.6,765.2 478.1,768.1 478.6,771.1 479.1,774.1 479.6,777.0 480.1,780.0 480.6,783.0 481.1,785.9 481.6,788.9 482.2,791.9 482.7,794.8 483.2,797.8 483.7,800.8 484.2,803.7 484.7,806.7 485.2,809.7 485.7,812.6 486.2,815.6 486.8,818.6 487.3,821.5 487.8,824.5 488.3,827.5 488.8,830.4 489.3,833.4 489.9,836.4 490.4,839.3 490.9,842.3 491.4,845.3 492.0,848.2 492.5,851.2 493.0,854.2 493.5,857.1 494.1,860.1 494.6,863.0 495.1,866.0 495.6,869.0 496.2,871.9 496.7,874.9 497.2,877.9 497.8,880.8 498.3,883.8 498.8,886.7 499.4,889.7 499.9,892.7 500.4,895.6 501.0,898.6 501.5,901.5 502.1,904.5 502.6,907.5 503.2,910.4 503.7,913.4 504.2,916.3 504.8,919.3 505.3,922.3 505.9,925.2 506.4,928.2 507.0,931.1 507.6,934.1 508.1,937.0 508.7,940.0 509.2,943.0 509.8,945.9 510.3,948.9 510.9,951.8 511.5,954.8 512.0,957.7 512.6,960.7 513.2,963.7 513.7,966.6 514.3,969.6 514.9,972.5 515.5,975.5 516.0,978.4 516.6,981.4 517.2,984.3 517.8,987.3 518.3,990.2 518.9,993.2 519.5,996.1 520.1,999.1 520.7,1002.0 521.3,1005.0 521.9,1007.9 522.5,1010.9 523.1,1013.8 523.7,1016.8 524.2,1019.7 524.8,1022.7 525.4,1025.6 526.1,1028.6 526.7,1031.5 527.3,1034.5 527.9,1037.4 528.5,1040.3 529.1,1043.3 529.7,1046.2 530.3,1049.2 530.9,1052.1 531.6,1055.1 532.2,1058.0 532.8,1060.9 533.4,1063.9 534.0,1066.8 534.7,1069.8 535.3,1072.7 535.9,1075.7 536.6,1078.6 537.2,1081.5 537.8,1084.5 538.5,1087.4 539.1,1090.4 539.8,1093.3 540.4,1096.2 541.0,1099.2 541.7,1102.1 542.3,1105.0 543.0,1108.0 543.6,1110.9 544.3,1113.9 544.9,1116.8 545.6,1119.7 546.2,1122.7 546.9,1125.6 547.5,1128.5 548.2,1131.5 548.9,1134.4 549.5,1137.3 550.2,1140.3 550.9,1143.2 551.5,1146.2 552.2,1149.1 552.9,1152.0 553.5,1155.0 554.2,1157.9 554.9,1160.8 555.6,1163.8 556.2,1166.7 556.9,1169.6 557.6,1172.6 558.3,1175.5 558.9,1178.4 559.6,1181.4 560.3,1184.3 561.0,1187.2 561.7,1190.1 562.4,1193.1 563.1,1196.0 563.7,1198.9 564.4,1201.9 565.1,1204.8 565.8,1207.7 566.5,1210.7 567.2,1213.6 567.9,1216.5 568.6,1219.5 569.3,1222.4 570.0,1225.3 570.7,1228.3 571.4,1231.2 572.1,1234.1 572.8,1237.0 573.5,1240.0 574.2,1242.9 574.9,1245.8 575.6,1248.8 576.3,1251.7 577.0,1254.6 577.8,1257.6 578.5,1260.5 579.2,1263.4 579.9,1266.3 580.6,1269.3 581.3,1272.2 582.0,1275.1 582.8,1278.1 583.5,1281.0 584.2,1283.9 584.9,1286.8 585.7,1289.8 586.4,1292.7 587.2,1295.6 587.9,1298.5 588.7,1301.4 589.5,1304.4 590.2,1307.3 591.0,1310.2 591.8,1313.1 592.6,1316.0 593.4,1318.9 594.2,1321.8 595.1,1324.7 595.9,1327.6 596.8,1330.5 597.6,1333.4 598.5,1336.2 599.4,1339.1 600.3,1342.0 601.2,1344.9 602.2,1347.7 603.1,1350.6 604.1,1353.4 605.1,1356.3 606.1,1359.1 607.1,1362.0 608.1,1364.8 609.1,1367.6 610.2,1370.4 611.3,1373.2 612.4,1376.1 613.5,1378.9 614.7,1381.6 615.8,1384.4 617.0,1387.2 618.2,1390.0 619.5,1392.8 620.7,1395.5 622.0,1398.3 623.3,1401.0 624.7,1403.7 626.0,1406.5 627.4,1409.2 628.8,1411.9 630.2,1414.6 631.7,1417.3 633.2,1420.0 634.7,1422.6 636.2,1425.2 637.8,1427.9 639.4,1430.4 641.0,1433.0 642.7,1435.5 644.4,1438.0 646.1,1440.5 647.9,1442.9 649.7,1445.3 651.6,1447.7 653.4,1450.0 655.4,1452.2 657.3,1454.5 659.3,1456.6 661.3,1458.7 663.4,1460.8 665.5,1462.8 667.7,1464.7 669.9,1466.6 672.1,1468.4 674.4,1470.2 676.8,1471.8 679.1,1473.4 681.6,1475.0 684.0,1476.4 686.5,1477.8 689.1,1479.1 691.7,1480.3 694.4,1481.5 697.1,1482.5 699.9,1483.5 702.7,1484.3 705.5,1485.1 708.4,1485.8 711.3,1486.3 714.3,1486.8 717.4,1487.2 720.5,1487.4 723.6,1487.6 726.8,1487.6 730.0,1487.5 733.3,1487.3 736.6,1487.0 740.0,1486.6 740.0,1486.6 788.0,1486.6 790.0,1488.6 794.0,1488.6 796.0,1485.4 801.0,1485.4 803.0,1487.0 912.0,1487.0" fill="none" stroke="#0000ff" stroke-width="2.8" stroke-linejoin="round" stroke-linecap="butt"/>
<text transform="translate(98.99,121.80) scale(0.9915,1.0350)" font-size="65">100</text>
<text transform="translate(131.94,321.05) scale(1.0300,1.0350)" font-size="65">95</text>
<text transform="translate(131.75,520.30) scale(1.0300,1.0350)" font-size="65">90</text>
<text transform="translate(131.94,719.55) scale(1.0300,1.0350)" font-size="65">85</text>
<text transform="translate(131.75,918.80) scale(1.0300,1.0350)" font-size="65">80</text>
<text transform="translate(131.94,1118.05) scale(1.0300,1.0350)" font-size="65">75</text>
<text transform="translate(131.75,1317.30) scale(1.0300,1.0350)" font-size="65">70</text>
<text transform="translate(131.94,1516.55) scale(1.0300,1.0350)" font-size="65">65</text>
<text transform="translate(237.46,1638.30) scale(1.0200,1.0350)" font-size="65">0</text>
<text transform="translate(469.29,1638.30) scale(1.0200,1.0350)" font-size="65">20</text>
<text transform="translate(720.84,1638.30) scale(1.0200,1.0350)" font-size="65">40</text>
<text transform="translate(970.56,1638.30) scale(1.0200,1.0350)" font-size="65">60</text>
<text transform="translate(1221.44,1638.30) scale(1.0200,1.0350)" font-size="65">80</text>
<text transform="translate(1454.06,1638.30) scale(1.0200,1.0350)" font-size="65">100</text>
<text transform="translate(1704.70,1638.30) scale(1.0200,1.0350)" font-size="65">120</text>
<text transform="translate(1955.34,1638.30) scale(1.0200,1.0350)" font-size="65">140</text>
<text transform="translate(980.73,1729.40) scale(1.0003,1.0150)" font-size="79" letter-spacing="0.55">Time (min)</text>
<text transform="translate(84.2,1035.55) rotate(-90) scale(1.0010,1.025)" font-size="79">Weight Loss (%)</text>
<line x1="1442.2" y1="265.5" x2="1618.4" y2="265.5" stroke="#000" stroke-width="2.8"/>
<text transform="translate(1637.24,288.90) scale(1.0153,1.0200)" font-size="78.5">850°C</text>
<line x1="1442.2" y1="362.3" x2="1618.4" y2="362.3" stroke="#ff0000" stroke-width="2.8"/>
<text transform="translate(1636.96,385.60) scale(1.0165,1.0200)" font-size="78.5">900°C</text>
<line x1="1442.2" y1="458.7" x2="1618.4" y2="458.7" stroke="#0000ff" stroke-width="2.8"/>
<text transform="translate(1636.96,484.40) scale(1.0165,1.0200)" font-size="78.5">950°C</text>
<text transform="translate(523.09,120.30) scale(1.1402,0.5) translate(0,23.11)" font-size="69.5">−</text><text transform="translate(0,138.30) scale(1,1.03)" font-size="69.5"><tspan x="565.49" y="0" style="font-family:'Liberation Serif', serif">Δ</tspan><tspan x="614.17" y="0">W</tspan><tspan x="676.80" y="0">/</tspan><tspan x="695.69" y="0" style="font-family:'Liberation Serif', serif">Δ</tspan><tspan x="742.42" y="0">t</tspan><tspan x="762.59" y="25.34" font-size="42">850°C</tspan><tspan x="881.74" y="0">=0.44</tspan></text>
<text transform="translate(523.09,237.00) scale(1.1402,0.5) translate(0,23.11)" font-size="69.5">−</text><text transform="translate(0,255.00) scale(1,1.03)" font-size="69.5"><tspan x="565.49" y="0" style="font-family:'Liberation Serif', serif">Δ</tspan><tspan x="614.17" y="0">W</tspan><tspan x="676.80" y="0">/</tspan><tspan x="695.69" y="0" style="font-family:'Liberation Serif', serif">Δ</tspan><tspan x="742.42" y="0">t</tspan><tspan x="762.51" y="25.34" font-size="42">900°C</tspan><tspan x="881.97" y="0">=1.07</tspan></text>
<text transform="translate(573.49,353.10) scale(1.1402,0.5) translate(0,23.11)" font-size="69.5">−</text><text transform="translate(0,371.10) scale(1,1.03)" font-size="69.5"><tspan x="615.89" y="0" style="font-family:'Liberation Serif', serif">Δ</tspan><tspan x="664.57" y="0">W</tspan><tspan x="727.20" y="0">/</tspan><tspan x="746.09" y="0" style="font-family:'Liberation Serif', serif">Δ</tspan><tspan x="792.82" y="0">t</tspan><tspan x="811.36" y="25.34" font-size="42">950°C</tspan><tspan x="930.73" y="0">=2</tspan></text>
<text transform="translate(282.16,900.20) scale(1.0202,1.0000)" font-size="67" fill="#0000ff" letter-spacing="1.3">24min</text>
<text transform="translate(587.99,913.60) scale(1.0102,1.0000)" font-size="67" fill="#ff0000" letter-spacing="1.3">50min</text>
<text transform="translate(1068.86,1109.50) scale(1.0074,1.0000)" font-size="67" letter-spacing="1.3">135min</text>
<text transform="translate(430.12,1489.30) scale(1.0117,1.0300)" font-size="67" fill="#0000ff">33.8%</text>
<text transform="translate(874.93,1469.50) scale(1.0081,1.0300)" font-size="67" fill="#ff0000">33.85%</text>
<text transform="translate(1811.12,1457.00) scale(1.0113,1.0300)" font-size="67">33.81%</text>
</svg>
</body>
</html>
